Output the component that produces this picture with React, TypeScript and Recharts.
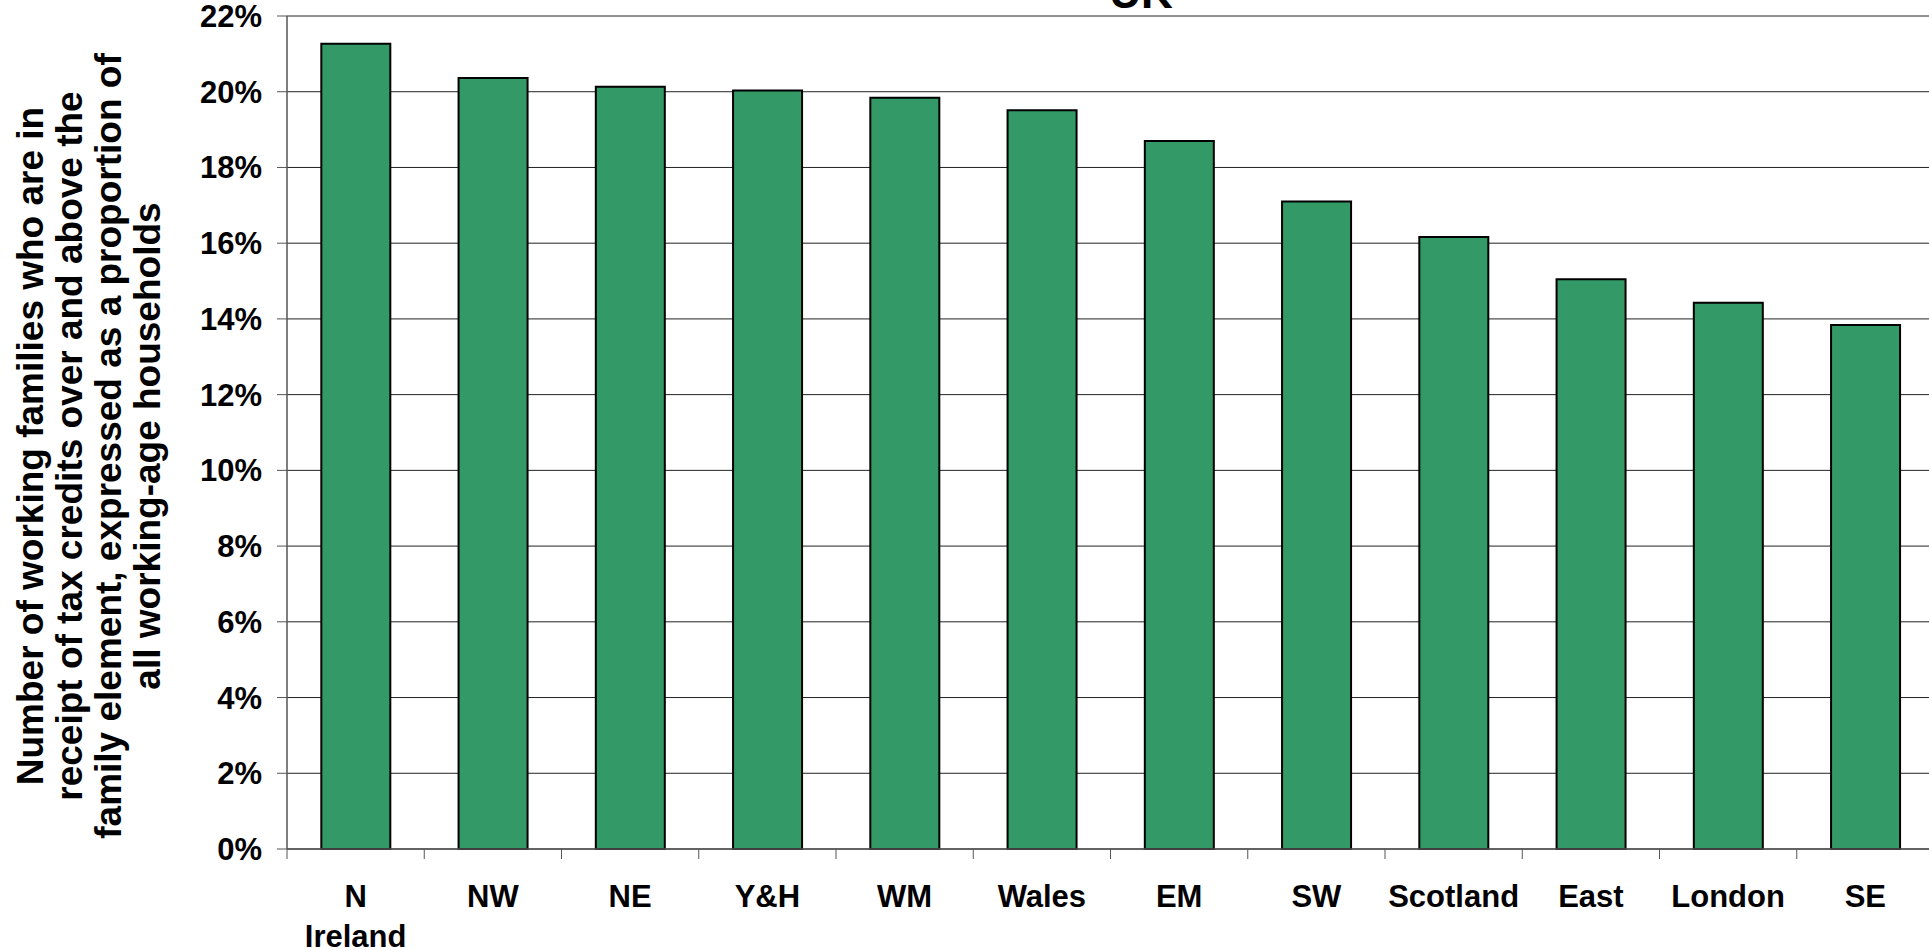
import { BarChart, Bar, XAxis, YAxis, CartesianGrid } from 'recharts';

const regions = ['N Ireland', 'NW', 'NE', 'Y&H', 'WM', 'Wales', 'EM', 'SW', 'Scotland', 'East', 'London', 'SE'];
const shares = [21.27, 20.36, 20.13, 20.03, 19.84, 19.51, 18.7, 17.1, 16.16, 15.05, 14.43, 13.84];
const yTicks = [0, 2, 4, 6, 8, 10, 12, 14, 16, 18, 20, 22];
const yLabelLines = [
  'Number of working families who are in',
  'receipt of tax credits over and above the',
  'family element, expressed as a proportion of',
  'all working-age households',
];
const title = 'UK';

const FONT = '"Liberation Sans", Arial, sans-serif';
const CHART_W = 1934;
const CHART_H = 950;
const MARGIN = { top: 16, right: 0, bottom: 0, left: 167 };
const Y_AXIS_W = 120;
const X_AXIS_H = 101;
const TICK_SIZE = 10;
const X_TICK_MARGIN = 26;
const AXIS_COLOR = '#555';

const data = regions.map((name, i) => ({ name, value: shares[i] }));

const XTick = (props: any) => {
  const { x, y, payload, index } = props;
  const plotW = CHART_W - MARGIN.left - Y_AXIS_W - MARGIN.right;
  const band = plotW / regions.length;
  const axisY = y - X_TICK_MARGIN - TICK_SIZE;
  const lines = String(payload.value).split(' ');
  return (
    <g>
      <line x1={x - band / 2} x2={x - band / 2} y1={axisY} y2={axisY + TICK_SIZE} stroke={AXIS_COLOR} />
      {index === regions.length - 1 && (
        <line x1={x + band / 2} x2={x + band / 2} y1={axisY} y2={axisY + TICK_SIZE} stroke={AXIS_COLOR} />
      )}
      <text x={x} y={y} textAnchor="middle" fontFamily={FONT} fontWeight="bold" fontSize={31} fill="#000">
        {lines.map((l, i) => (
          <tspan key={i} x={x} dy={i === 0 ? '0.71em' : 40}>
            {l}
          </tspan>
        ))}
      </text>
    </g>
  );
};

export default function App() {
  return (
    <div style={{ position: 'fixed', left: 0, top: 0, width: 1929, height: 950, overflow: 'hidden', background: '#fff' }}>
      <BarChart width={CHART_W} height={CHART_H} data={data} margin={MARGIN} barCategoryGap="25%">
        <CartesianGrid vertical={false} stroke="#222" strokeWidth={1} />
        <XAxis
          dataKey="name"
          height={X_AXIS_H}
          interval={0}
          tickLine={false}
          tickSize={TICK_SIZE}
          tickMargin={X_TICK_MARGIN}
          tick={<XTick />}
          axisLine={{ stroke: AXIS_COLOR, strokeWidth: 1.5 }}
        />
        <YAxis
          width={Y_AXIS_W}
          domain={[0, 22]}
          ticks={yTicks}
          interval={0}
          tickSize={TICK_SIZE}
          tickMargin={15}
          tickLine={{ stroke: AXIS_COLOR }}
          axisLine={{ stroke: AXIS_COLOR, strokeWidth: 1.5 }}
          tickFormatter={(v: number) => `${v}%`}
          tick={{ fill: '#000', fontSize: 31, fontWeight: 'bold', fontFamily: FONT }}
        />
        <Bar dataKey="value" fill="#339966" stroke="#000" strokeWidth={2} isAnimationActive={false} />
      </BarChart>
      <div
        style={{
          position: 'absolute',
          left: 1141 - 200,
          top: -29,
          width: 400,
          textAlign: 'center',
          fontFamily: FONT,
          fontWeight: 'bold',
          fontSize: 44,
          lineHeight: '44px',
        }}
      >
        {title}
      </div>
      <div
        style={{
          position: 'absolute',
          left: 89 - 450,
          top: 446 - 78,
          width: 900,
          height: 156,
          transform: 'rotate(-90deg)',
          transformOrigin: 'center',
          textAlign: 'center',
          fontFamily: FONT,
          fontWeight: 'bold',
          fontSize: 37,
          lineHeight: '39px',
          whiteSpace: 'nowrap',
        }}
      >
        {yLabelLines.map((l, i) => (
          <div key={i}>{l}</div>
        ))}
      </div>
    </div>
  );
}
